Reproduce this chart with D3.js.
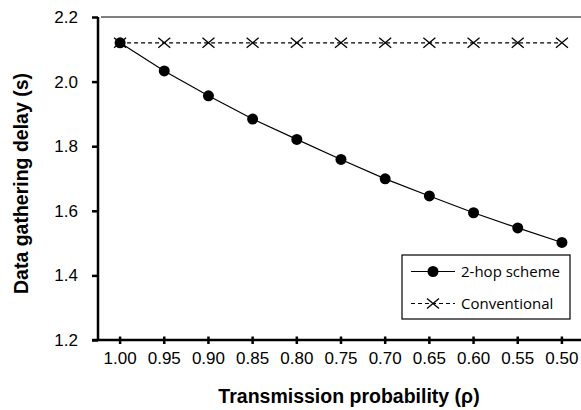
<!DOCTYPE html>
<html><head><meta charset="utf-8">
<script src="https://cdn.jsdelivr.net/npm/d3@7"></script>
<style>body{margin:0;background:#fff}</style>
</head><body>
<svg id="c" width="581" height="410"></svg>
<script>
const categories = ["1.00","0.95","0.90","0.85","0.80","0.75","0.70","0.65","0.60","0.55","0.50"];
const twoHop = [2.12,2.033,1.956,1.884,1.821,1.759,1.699,1.646,1.594,1.547,1.502];
const conventional = [2.12,2.12,2.12,2.12,2.12,2.12,2.12,2.12,2.12,2.12,2.12];
const yTicks = [1.2,1.4,1.6,1.8,2.0,2.2];
const seriesNames = ["2-hop scheme","Conventional"];

const svg = d3.select("#c");
const L = 98, R = 584, T = 17, B = 340;
const x = d3.scaleBand().domain(categories).range([L, R]);
const y = d3.scaleLinear().domain([1.2, 2.2]).range([B, T]);
const cx = d => x(d) + x.bandwidth()/2;
const FONT = "Liberation Sans, Arial, sans-serif";

// top border
svg.append("line").attr("x1", L + 3).attr("x2", 581).attr("y1", T).attr("y2", T)
  .attr("stroke", "#555").attr("stroke-width", 1.5);

// y axis
const ya = svg.append("g").attr("transform", `translate(${L},0)`)
  .call(d3.axisLeft(y).tickValues(yTicks).tickFormat(d3.format(".1f")).tickSize(6).tickPadding(14));
ya.select(".domain").attr("stroke", "#000").attr("stroke-width", 2.5).attr("d", `M0,${B}V${T}`);
ya.selectAll(".tick line").attr("stroke", "#000").attr("stroke-width", 2.5);
ya.selectAll("text").attr("font-family", FONT).attr("font-size", 17).attr("fill", "#000");

// x axis
const xa = svg.append("g").attr("transform", `translate(0,${B})`)
  .call(d3.axisBottom(x).tickSize(0).tickPadding(12));
xa.select(".domain").attr("stroke", "#000").attr("stroke-width", 2.5).attr("d", `M${L-6},0H581`);
xa.selectAll(".tick line").attr("stroke", "#000").attr("stroke-width", 2.5).attr("y1", -3.5).attr("y2", 4);
xa.selectAll("text").attr("font-family", FONT).attr("font-size", 17).attr("fill", "#000");

// lines
const line = d3.line().x((d,i) => cx(categories[i])).y(d => y(d));
svg.append("path").datum(conventional).attr("d", line).attr("fill", "none")
  .attr("stroke", "#000").attr("stroke-width", 1.2).attr("stroke-dasharray", "4,3");
svg.append("path").datum(twoHop).attr("d", line).attr("fill", "none")
  .attr("stroke", "#000").attr("stroke-width", 1.2);

const xMark = (g, px, py) => {
  g.append("path").attr("d", `M${px-6},${py-5}L${px+6},${py+5}M${px-6},${py+5}L${px+6},${py-5}`)
    .attr("stroke", "#000").attr("stroke-width", 1.3).attr("fill", "none");
};
const gx = svg.append("g");
conventional.forEach((v,i) => xMark(gx, cx(categories[i]), y(v)));
svg.append("g").selectAll("circle").data(twoHop).join("circle")
  .attr("cx", (d,i) => cx(categories[i])).attr("cy", d => y(d)).attr("r", 5.5).attr("fill", "#000");

// legend
const lg = svg.append("g");
lg.append("rect").attr("x", 402).attr("y", 255).attr("width", 168).attr("height", 64)
  .attr("fill", "#fff").attr("stroke", "#000").attr("stroke-width", 1.2);
const rows = [271.5, 303.5];
lg.append("line").attr("x1", 411).attr("x2", 455).attr("y1", rows[0]).attr("y2", rows[0]).attr("stroke", "#000").attr("stroke-width", 1.2);
lg.append("circle").attr("cx", 433).attr("cy", rows[0]).attr("r", 5.5).attr("fill", "#000");
lg.append("line").attr("x1", 411).attr("x2", 455).attr("y1", rows[1]).attr("y2", rows[1]).attr("stroke", "#000").attr("stroke-width", 1.2).attr("stroke-dasharray", "4,3");
xMark(lg, 433, rows[1]);
seriesNames.forEach((n,i) => lg.append("text").attr("x", 461).attr("y", rows[i] + 5.5)
  .attr("font-family", "Open Sans, Lato, sans-serif").attr("font-size", 15).attr("fill", "#000").text(n));

// axis titles
svg.append("text").attr("x", 349).attr("y", 403).attr("text-anchor", "middle")
  .attr("font-family", FONT).attr("font-weight", "bold").attr("font-size", 19.5)
  .text("Transmission probability (ρ)");
svg.append("text").attr("transform", "translate(28,183.5) rotate(-90)").attr("text-anchor", "middle")
  .attr("font-family", FONT).attr("font-weight", "bold").attr("font-size", 19.5)
  .text("Data gathering delay (s)");
</script>
</body></html>
